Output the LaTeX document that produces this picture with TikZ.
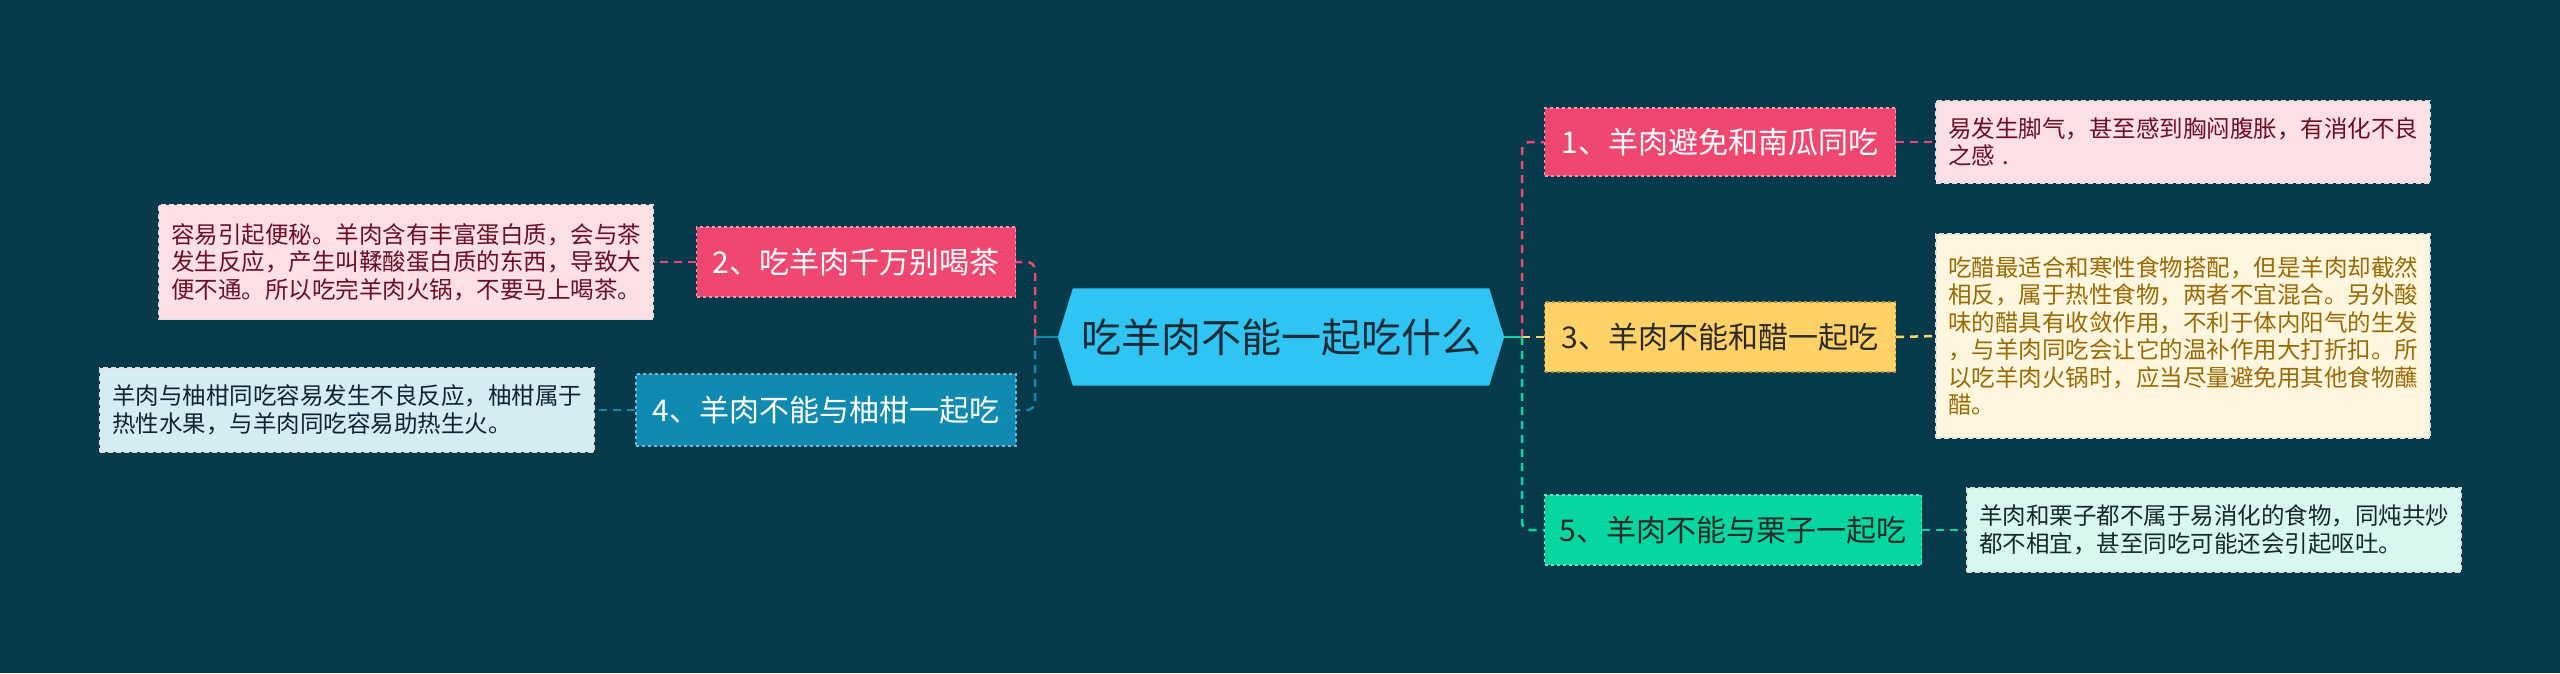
\documentclass[tikz,border=0pt]{standalone}
\usepackage{fontspec}
\setmainfont{Noto Sans CJK SC}
\usetikzlibrary{backgrounds}
\definecolor{bgc}{HTML}{073B4C}
\definecolor{cpink}{HTML}{EF476F}
\definecolor{cyel}{HTML}{FFD166}
\definecolor{cgreen}{HTML}{06D6A0}
\definecolor{cblue}{HTML}{118AB2}
\definecolor{ccenter}{HTML}{2FC4F1}
\definecolor{lpink}{HTML}{FDE0E6}
\definecolor{lyel}{HTML}{FFF6DF}
\definecolor{lgreen}{HTML}{D8F8EF}
\definecolor{lblue}{HTML}{D6ECF3}
\definecolor{tpink}{HTML}{6B0F25}
\definecolor{tyel}{HTML}{9A6A05}
\definecolor{tgreen}{HTML}{15282A}
\definecolor{tblue}{HTML}{0C2533}
\definecolor{tdark}{HTML}{2A2A2A}
\definecolor{tcenter}{HTML}{1D2B36}
\tikzset{
  branch/.style={rectangle, inner sep=0pt, dashed, line width=1.2pt,
    font=\fontsize{30}{34}\selectfont},
  leafbox/.style={rectangle, inner xsep=12pt, inner ysep=0pt, text width=470pt,
    align=left, draw=white!75!gray, dashed, line width=1.5pt,
    dash pattern=on 5pt off 3pt, font=\fontsize{23.5}{27.5}\selectfont},
  link/.style={line width=2.5pt, dash pattern=on 8pt off 6pt, rounded corners=8pt},
}
\begin{document}
\begin{tikzpicture}[x=1pt,y=-1pt]
\useasboundingbox (0,0) rectangle (2560,673);
\begin{pgfonlayer}{background}
\fill[bgc] (0,0) rectangle (2560,673);
\end{pgfonlayer}

% central node
\node[rectangle, inner sep=0pt, minimum width=446pt, minimum height=97pt,
  text=tcenter, font=\fontsize{40}{44}\selectfont] (c) at (1281,337) {吃羊肉不能一起吃什么};
\begin{pgfonlayer}{background}
\fill[ccenter] ([xshift=15pt]c.north west) -- ([xshift=-15pt]c.north east) -- (c.east)
  -- ([xshift=-15pt]c.south east) -- ([xshift=15pt]c.south west) -- (c.west) -- cycle;
\end{pgfonlayer}

\coordinate (tr) at (1522,337);
\coordinate (tl) at (1035,337);

% branch nodes
\node[branch, fill=cpink, draw=cpink!55!white, text=white, minimum width=351pt, minimum height=68pt] (n1) at (1720,142) {1、羊肉避免和南瓜同吃};
\node[branch, fill=cyel, draw=cyel!70!black, text=tdark, minimum width=351pt, minimum height=70pt] (n3) at (1720,337) {3、羊肉不能和醋一起吃};
\node[branch, fill=cgreen, draw=cgreen!60!white, text=tdark, minimum width=377pt, minimum height=70pt] (n5) at (1733,530) {5、羊肉不能与栗子一起吃};
\node[branch, fill=cpink, draw=cpink!55!white, text=white, minimum width=319pt, minimum height=70pt] (n2) at (856,262) {2、吃羊肉千万别喝茶};
\node[branch, fill=cblue, draw=cblue!60!white, text=white, minimum width=380pt, minimum height=72pt] (n4) at (826,410) {4、羊肉不能与柚柑一起吃};

% leaves
\node[leafbox, fill=lpink, text=tpink, minimum height=82pt] (l1) at (2183,142) {易发生脚气，甚至感到胸闷腹胀，有消化不良\\之感 .};
\node[leafbox, fill=lyel, text=tyel, minimum height=204pt] (l3) at (2183,336) {吃醋最适合和寒性食物搭配，但是羊肉却截然\\相反，属于热性食物，两者不宜混合。另外酸\\味的醋具有收敛作用，不利于体内阳气的生发\\，与羊肉同吃会让它的温补作用大打折扣。所\\以吃羊肉火锅时，应当尽量避免用其他食物蘸\\醋。};
\node[leafbox, fill=lgreen, text=tgreen, minimum height=84pt] (l5) at (2214,530) {羊肉和栗子都不属于易消化的食物，同炖共炒\\都不相宜，甚至同吃可能还会引起呕吐。};
\node[leafbox, fill=lpink, text=tpink, minimum height=115pt] (l2) at (406,262) {容易引起便秘。羊肉含有丰富蛋白质，会与茶\\发生反应，产生叫鞣酸蛋白质的东西，导致大\\便不通。所以吃完羊肉火锅，不要马上喝茶。};
\node[leafbox, fill=lblue, text=tblue, minimum height=84pt] (l4) at (347,410) {羊肉与柚柑同吃容易发生不良反应，柚柑属于\\热性水果，与羊肉同吃容易助热生火。};

% connectors from center
\draw[cgreen, line width=2.5pt] (c.east) -- (tr);
\draw[cblue, line width=2.5pt] (c.west) -- (tl);
\draw[link, cpink] (tr) |- (n1.west);
\draw[link, cyel] (tr) -- (n3.west);
\draw[link, cgreen] (tr) |- (n5.west);
\draw[link, cpink] (tl) |- (n2.east);
\draw[link, cblue] (tl) |- (n4.east);

% branch to leaf
\draw[link, cpink] (n1.east) -- (l1.west);
\draw[link, cyel] (n3.east) -- (l3.west);
\draw[link, cgreen] (n5.east) -- (l5.west);
\draw[link, cpink] (n2.west) -- (l2.east);
\draw[link, cblue] (n4.west) -- (l4.east);
\end{tikzpicture}
\end{document}
